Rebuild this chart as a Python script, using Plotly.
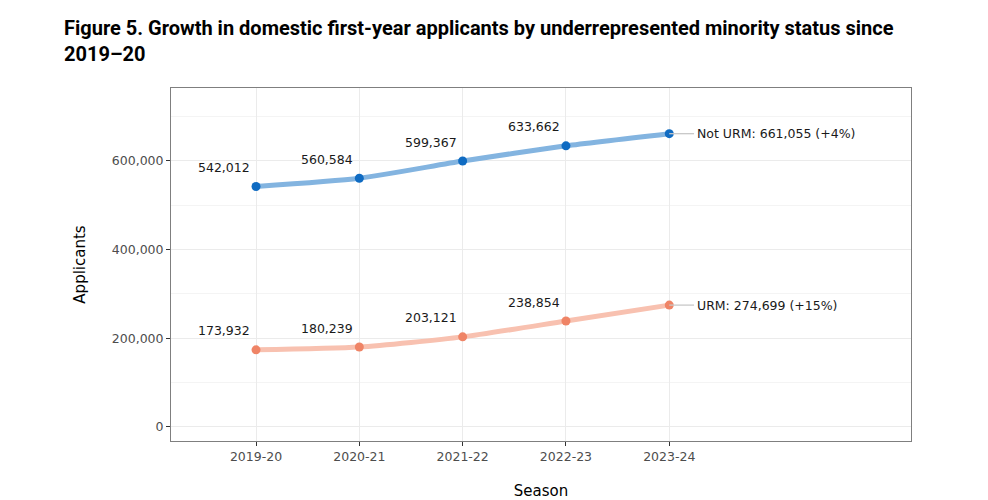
import plotly.graph_objects as go

seasons = ["2019-20", "2020-21", "2021-22", "2022-23", "2023-24"]
not_urm = [542012, 560584, 599367, 633662, 661055]
urm = [173932, 180239, 203121, 238854, 274699]
end_labels = ["Not URM: 661,055 (+4%)", "URM: 274,699 (+15%)"]
ytick_vals = [0, 200000, 400000, 600000]
ytick_text = ["0", "200,000", "400,000", "600,000"]

x = list(range(len(seasons)))
fig = go.Figure()

series = [
    (not_urm, "#83b4e0", "#0f6bc2", end_labels[0]),
    (urm, "#f8c1b0", "#ef8466", end_labels[1]),
]
for vals, lc, mc, lab in series:
    fig.add_trace(go.Scatter(x=x, y=vals, mode="lines", line=dict(color=lc, width=5, shape="spline", smoothing=0.6),
                             hoverinfo="skip", showlegend=False))
    fig.add_trace(go.Scatter(x=x, y=vals, mode="markers", marker=dict(color=mc, size=9),
                             showlegend=False))
    fig.add_trace(go.Scatter(x=[x[-1], x[-1] + 0.24], y=[vals[-1], vals[-1]], mode="lines",
                             line=dict(color="#c8c8c8", width=1.3), hoverinfo="skip", showlegend=False))
    for xi, v in zip(x[:-1], vals[:-1]):
        fig.add_annotation(x=xi, y=v, text=f"{v:,}", showarrow=False, xshift=-32, yshift=19,
                           font=dict(family="DejaVu Sans", size=12.5, color="#1a1a1a"))
    fig.add_annotation(x=x[-1], y=vals[-1], text=lab, showarrow=False, xanchor="left", xshift=26,
                       font=dict(family="DejaVu Sans", size=12.5, color="#1a1a1a"))

fig.update_layout(
    width=988, height=500,
    margin=dict(l=171, r=77, t=88, b=59),
    paper_bgcolor="white", plot_bgcolor="white",
    title=dict(text="<b>Figure 5. Growth in domestic first-year applicants by underrepresented minority status since<br>2019–20</b>",
               x=64 / 988, xref="container", xanchor="left", y=1 - 35 / 500, yref="container", yanchor="top",
               font=dict(family="Roboto", size=20, color="#000000")),
    font=dict(family="DejaVu Sans"),
)

fig.update_xaxes(
    tickmode="array", tickvals=x, ticktext=seasons, range=[-0.823, 6.34],
    showgrid=True, gridcolor="#ebebeb", gridwidth=1, zeroline=False,
    ticks="outside", ticklen=4, tickcolor="#333333",
    tickfont=dict(family="DejaVu Sans", size=12.5, color="#4d4d4d"),
    showline=True, linecolor="#7f7f7f", linewidth=1, mirror=True, automargin=False,
    title=dict(text="Season", font=dict(family="DejaVu Sans", size=15, color="#000000"), standoff=30),
)
fig.update_yaxes(
    tickmode="array", tickvals=ytick_vals, ticktext=ytick_text, range=[-31600, 764000],
    showgrid=True, gridcolor="#ebebeb", gridwidth=1, zeroline=False,
    minor=dict(tickmode="array", tickvals=[100000, 300000, 500000, 700000], showgrid=True, gridcolor="#f4f4f4", gridwidth=1),
    ticks="outside", ticklen=4, tickcolor="#333333",
    tickfont=dict(family="DejaVu Sans", size=12.5, color="#4d4d4d"),
    showline=True, linecolor="#7f7f7f", linewidth=1, mirror=True, automargin=False,
    title=dict(text="Applicants", font=dict(family="DejaVu Sans", size=15, color="#000000"), standoff=22),
)

fig.write_html("out.html")
